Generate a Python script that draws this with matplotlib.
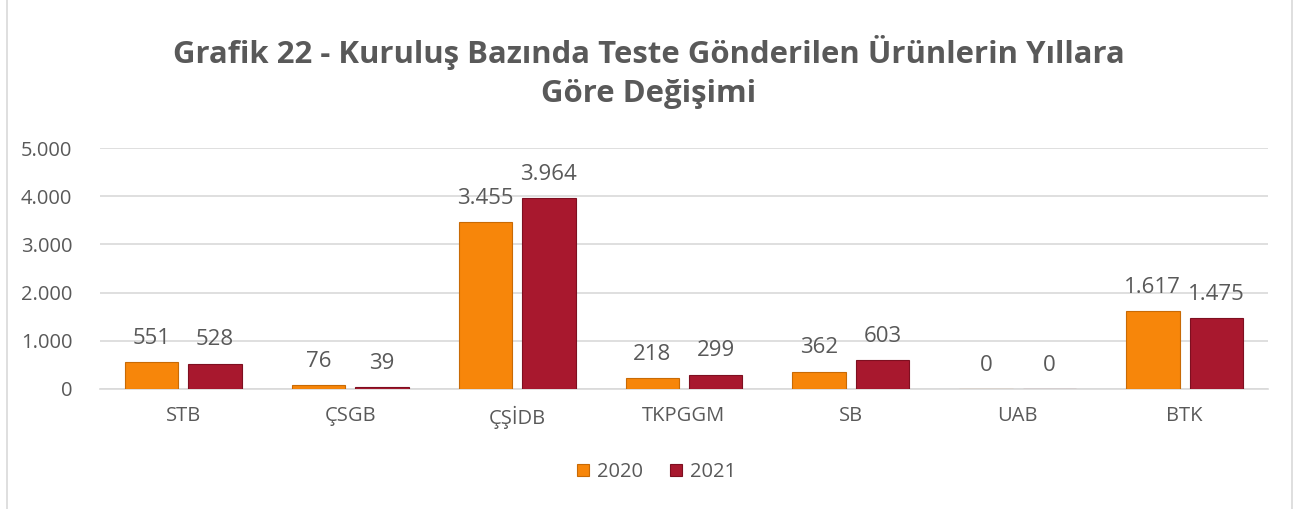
import numpy as np
import matplotlib.pyplot as plt
from matplotlib.ticker import FuncFormatter

# veriler
kurumlar = ['STB', 'ÇSGB', 'ÇŞİDB', 'TKPGGM', 'SB', 'UAB', 'BTK']
y2020 = [551, 76, 3455, 218, 362, 0, 1617]
y2021 = [528, 39, 3964, 299, 603, 0, 1475]
yticks = [0, 1000, 2000, 3000, 4000, 5000]

renk2020 = '#F7860A'
renk2021 = '#A8182E'
yazi = '#595959'

plt.rcParams['font.family'] = ['Open Sans', 'DejaVu Sans']

fig = plt.figure(figsize=(12.97, 5.09), dpi=100)
ax = fig.add_axes([100 / 1297, 1 - 389 / 509, 1168 / 1297, 241 / 509])

x = np.arange(len(kurumlar))
w = 0.32
b1 = ax.bar(x - 0.19, y2020, w, color=renk2020, edgecolor='#C86A05', linewidth=0.8, label='2020', zorder=3)
b2 = ax.bar(x + 0.19, y2021, w, color=renk2021, edgecolor='#7E0F20', linewidth=0.8, label='2021', zorder=3)

def fmt(v):
    return f'{int(v):,}'.replace(',', '.')

# değer etiketleri
for bars in (b1, b2):
    for r in bars:
        h = r.get_height()
        ax.annotate(fmt(h), (r.get_x() + r.get_width() / 2, h), xytext=(0, 17),
                    textcoords='offset points', ha='center', va='center',
                    fontsize=16, color=yazi)

ax.set_xlim(-0.5, len(kurumlar) - 0.5)
ax.set_ylim(0, 5000)
ax.set_yticks(yticks)
ax.yaxis.set_major_formatter(FuncFormatter(lambda v, p: fmt(v)))
ax.set_xticks(x)
ax.set_xticklabels(kurumlar)
ax.tick_params(axis='both', length=0, labelsize=14.5, colors=yazi)
ax.tick_params(axis='x', pad=12)
ax.tick_params(axis='y', pad=20)
ax.grid(axis='y', color='#D9D9D9', linewidth=1.2, zorder=0)
for s in ['top', 'right', 'left']:
    ax.spines[s].set_visible(False)
ax.spines['bottom'].set_color('#D9D9D9')
ax.spines['bottom'].set_linewidth(1.2)

fig.text(0.5, 1 - 72 / 509, 'Grafik 22 - Kuruluş Bazında Teste Gönderilen Ürünlerin Yıllara\nGöre Değişimi',
         ha='center', va='center', fontsize=22.4, fontweight='bold', color=yazi, linespacing=1.35)

fig.legend(handles=[b1, b2], loc='center', bbox_to_anchor=(0.5 + 8 / 1297, 1 - 472 / 509), ncol=2,
           frameon=False, fontsize=14.5, labelcolor=yazi, handlelength=0.6, handleheight=0.6,
           handletextpad=0.4, columnspacing=1.3)

# çerçeve
fig.add_artist(plt.Line2D([7 / 1297, 7 / 1297], [0, 1], color='#D9D9D9', linewidth=1.2))
fig.add_artist(plt.Line2D([1292 / 1297, 1292 / 1297], [0, 1], color='#D9D9D9', linewidth=1.2))

fig.savefig('out.png', dpi=100)
